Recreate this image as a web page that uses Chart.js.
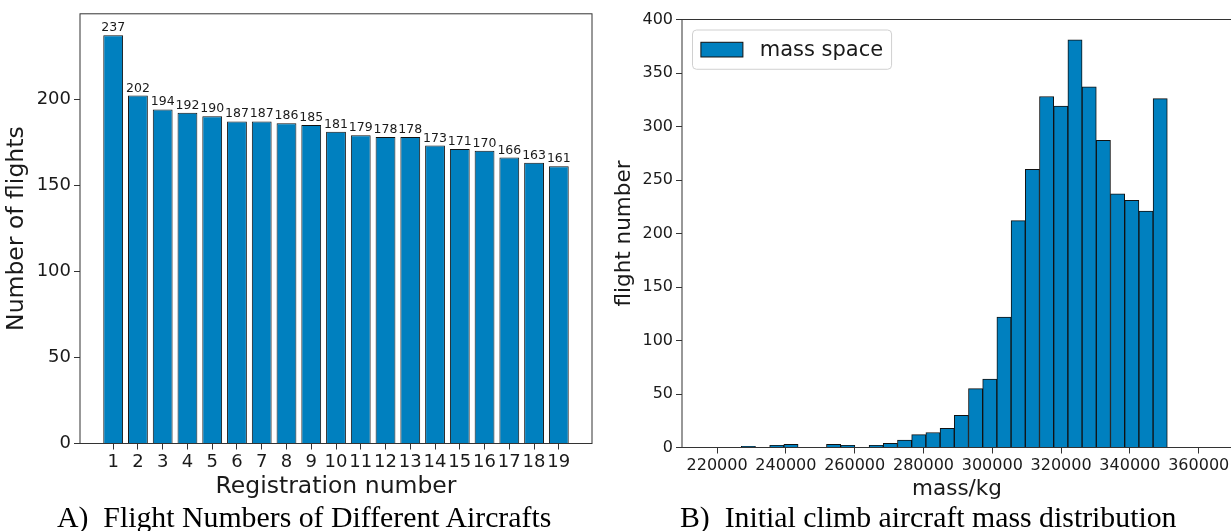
<!DOCTYPE html>
<html lang="en">
<head>
<meta charset="UTF-8">
<title>Flight numbers and initial climb mass</title>
<script src="https://cdn.jsdelivr.net/npm/chart.js@4.4.1/dist/chart.umd.min.js"></script>
<style>
    body {
        margin: 0;
        background: #fff;
        width: 1231px;
        height: 531px;
        overflow: hidden;
        position: relative;
    }
    .panel { position: absolute; top: 0; }
    .panel canvas { display: block; }
    #panelA { left: 0; }
    #panelB { left: 600px; }
    .caption {
        position: absolute;
        top: 502px;
        font-family: "Liberation Serif", "Times New Roman", serif;
        font-size: 29.8px;
        line-height: 30px;
        color: #000;
        white-space: pre;
    }
    #captionA { left: 57px; }
    #captionB { left: 680px; }
</style>
</head>
<body>
<div class="panel" id="panelA"><canvas id="flightsChart" width="600" height="501"></canvas></div>
<div class="panel" id="panelB"><canvas id="massChart" width="650" height="502"></canvas></div>
<div class="caption" id="captionA">A)  Flight Numbers of Different Aircrafts</div>
<div class="caption" id="captionB">B)  Initial climb aircraft mass distribution</div>

<script>
    // flights per aircraft, sorted by registration number
    const regNumbers = [1, 2, 3, 4, 5, 6, 7, 8, 9, 10, 11, 12, 13, 14, 15, 16, 17, 18, 19];
    const flightsPerAircraft = [237, 202, 194, 192, 190, 187, 187, 186, 185, 181, 179, 178, 178, 173, 171, 170, 166, 163, 161];
    const flightTicks = [0, 50, 100, 150, 200];

    // initial climb mass histogram (30 equal bins between massMin and massMax)
    const massMin = 227030;
    const massMax = 350870;
    const massCounts = [1, 0, 2, 3, 0, 0, 3, 2, 0, 2, 4, 7, 12, 14, 18, 30, 55, 64, 122, 212,
                        260, 328, 319, 381, 337, 287, 237, 231, 221, 326];
    const massTicks = [220000, 240000, 260000, 280000, 300000, 320000, 340000, 360000];
    const countTicks = [0, 50, 100, 150, 200, 250, 300, 350, 400];

    const barBlue = '#0080bf';
    const barEdge = '#111';
    const inkColor = '#1a1a1a';
    const spineColor = '#333';

    Chart.defaults.font.family = '"DejaVu Sans", sans-serif';
    Chart.defaults.color = inkColor;

    // box round the plot area, drawn over the bars like matplotlib spines
    const frame = {
        id: 'frame',
        afterDatasetsDraw(chart) {
            const { ctx, chartArea: a } = chart;
            ctx.save();
            ctx.strokeStyle = spineColor;
            ctx.lineWidth = 1;
            ctx.strokeRect(a.left, a.top, a.right - a.left, a.bottom - a.top);
            ctx.restore();
        }
    };

    // count written above every bar
    const barValues = {
        id: 'barValues',
        afterDatasetsDraw(chart, args, opts) {
            const { ctx } = chart;
            const meta = chart.getDatasetMeta(0);
            const data = chart.data.datasets[0].data;
            ctx.save();
            ctx.font = opts.size + 'px "DejaVu Sans"';
            ctx.fillStyle = inkColor;
            ctx.textAlign = 'center';
            ctx.textBaseline = 'alphabetic';
            meta.data.forEach((bar, i) => {
                ctx.fillText(String(data[i].y), bar.x, bar.y - 4);
            });
            ctx.restore();
        }
    };

    // matplotlib style legend in the upper left corner
    const boxLegend = {
        id: 'boxLegend',
        afterDraw(chart, args, opts) {
            const { ctx, chartArea: a } = chart;
            const ds = chart.data.datasets[0];
            const fs = opts.size;
            const pad = 0.4 * fs, handleW = 2 * fs, handleH = 0.7 * fs, gap = 0.8 * fs;
            ctx.save();
            ctx.font = fs + 'px "DejaVu Sans"';
            const textW = ctx.measureText(ds.label).width;
            const x = a.left + 0.5 * fs;
            const y = a.top + 0.5 * fs;
            const w = pad + handleW + gap + textW + pad;
            const h = 2 * pad + 1.07 * fs;
            ctx.beginPath();
            ctx.roundRect(x, y, w, h, 4);
            ctx.fillStyle = 'rgba(255,255,255,0.8)';
            ctx.fill();
            ctx.strokeStyle = '#d0d0d0';
            ctx.lineWidth = 1;
            ctx.stroke();
            ctx.fillStyle = ds.backgroundColor;
            ctx.strokeStyle = ds.borderColor;
            ctx.fillRect(x + pad, y + h / 2 - handleH / 2, handleW, handleH);
            ctx.strokeRect(x + pad, y + h / 2 - handleH / 2, handleW, handleH);
            ctx.fillStyle = inkColor;
            ctx.textBaseline = 'middle';
            ctx.fillText(ds.label, x + pad + handleW + gap, y + h / 2 + 1);
            ctx.restore();
        }
    };

    function axis(opts) {
        return {
            type: 'linear',
            min: opts.min,
            max: opts.max,
            offset: false,
            afterBuildTicks: s => { s.ticks = opts.ticks.map(v => ({ value: v })); },
            afterFit: s => {
                if (opts.width) s.width = opts.width;
                if (opts.height) s.height = opts.height;
            },
            border: { display: false },
            grid: {
                offset: false,
                drawOnChartArea: false,
                drawTicks: true,
                tickLength: 6,
                color: spineColor,
                tickColor: spineColor
            },
            ticks: {
                autoSkip: false,
                maxRotation: 0,
                minRotation: 0,
                padding: opts.tickPad,
                font: { size: opts.tickSize },
                color: inkColor,
                callback: v => String(v)
            },
            title: {
                display: true,
                text: opts.title,
                color: inkColor,
                font: { size: opts.titleSize },
                padding: opts.titlePad
            }
        };
    }

    new Chart(document.getElementById('flightsChart'), {
        type: 'bar',
        data: {
            datasets: [{
                label: 'flights',
                data: regNumbers.map((r, i) => ({ x: r, y: flightsPerAircraft[i] })),
                backgroundColor: barBlue,
                borderColor: barEdge,
                borderWidth: 1,
                borderSkipped: 'start',
                barPercentage: 0.8,
                categoryPercentage: 1
            }]
        },
        options: {
            responsive: false,
            animation: false,
            layout: { padding: { top: 13.5, right: 8, left: 0, bottom: 0 } },
            plugins: {
                legend: { display: false },
                tooltip: { enabled: false },
                barValues: { size: 12.5 }
            },
            scales: {
                x: axis({ min: -0.34, max: 20.34, ticks: regNumbers, height: 57.5, tickPad: 2, tickSize: 18,
                          title: 'Registration number', titleSize: 23.5, titlePad: { top: 0, bottom: 0 } }),
                y: axis({ min: 0, max: 249.5, ticks: flightTicks, width: 80, tickPad: 3, tickSize: 18,
                          title: 'Number of flights', titleSize: 23.5, titlePad: { top: 3, bottom: 0 } })
            }
        },
        plugins: [frame, barValues]
    });

    const binWidth = (massMax - massMin) / massCounts.length;

    new Chart(document.getElementById('massChart'), {
        type: 'bar',
        data: {
            datasets: [{
                label: 'mass space',
                data: massCounts.map((c, i) => ({ x: massMin + (i + 0.5) * binWidth, y: c })),
                backgroundColor: barBlue,
                borderColor: barEdge,
                borderWidth: 1,
                borderSkipped: 'start',
                barPercentage: 1,
                categoryPercentage: 1
            }]
        },
        options: {
            responsive: false,
            animation: false,
            layout: { padding: { top: 19.5, right: 18, left: 0, bottom: 0 } },
            plugins: {
                legend: { display: false },
                tooltip: { enabled: false },
                boxLegend: { size: 21 }
            },
            scales: {
                x: axis({ min: 209800, max: 369680, ticks: massTicks, height: 54.5, tickPad: 3, tickSize: 16,
                          title: 'mass/kg', titleSize: 21.5, titlePad: { top: 0, bottom: 0 } }),
                y: axis({ min: 0, max: 400, ticks: countTicks, width: 82, tickPad: 3, tickSize: 16,
                          title: 'flight number', titleSize: 21.5, titlePad: { top: 12, bottom: 0 } })
            }
        },
        plugins: [frame, boxLegend]
    });
</script>
</body>
</html>
